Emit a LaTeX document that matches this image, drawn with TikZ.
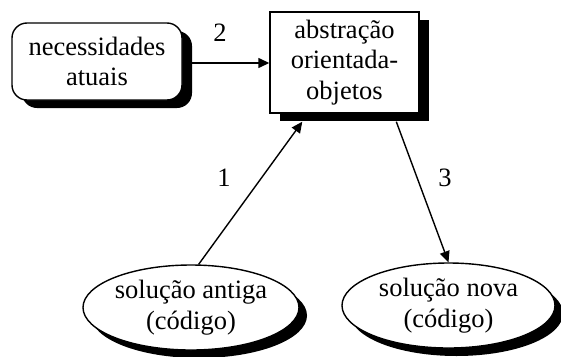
\documentclass[tikz,border=0pt]{standalone}
\usepackage{fontspec}
\setmainfont{Liberation Serif}
\usetikzlibrary{shapes.geometric,shadows,arrows.meta,calc}
\begin{document}
\begin{tikzpicture}[x=1pt,y=-1pt,
  every node/.style={font=\fontsize{26.5}{30.5}\selectfont, align=center, inner sep=0pt},
  boxline/.style={draw=black, line width=1.4pt, fill=white},
  blkshadow/.style={drop shadow={shadow xshift=#1, shadow yshift=-8pt, fill=black, opacity=1}},
  roundbox/.style={boxline, rounded corners=15pt, minimum width=170pt, minimum height=77pt, blkshadow=10pt},
  plainbox/.style={boxline, minimum width=149pt, minimum height=101pt, blkshadow=10pt},
  ovalbox/.style={boxline, ellipse, minimum width=216pt, minimum height=85pt, blkshadow=8pt},
  arr/.style={line width=1.4pt, -{Triangle[length=11pt,width=10pt]}},
  lbl/.style={font=\fontsize{26.5}{30.5}\selectfont}
]
\useasboundingbox (0,0) rectangle (561,356);

\node[roundbox] (nec) at (97,61.5) {necessidades\\atuais};
\node[plainbox] (abs) at (344.5,62.5) {abstração\\orientada-\\objetos};
\node[ovalbox] (antiga) at (191,307.5) {solução antiga\\(código)};
\node[ovalbox, minimum width=213pt] (nova) at (448.5,305.5) {solução nova\\(código)};

\coordinate (in1) at ($(abs.south west)+(33,8)$);
\coordinate (out3) at ($(abs.south west)+(127,8)$);

\draw[arr] (nec.east |- 0,63) -- (abs.west |- 0,63);
\draw[arr] (antiga.80) -- (in1);
\draw[arr] (out3) -- (nova.north);

\node[lbl] (l2) at (220,33) {2};
\node[lbl] (l1) at (224,178) {1};
\node[lbl] (l3) at (445,178) {3};
\end{tikzpicture}
\end{document}
